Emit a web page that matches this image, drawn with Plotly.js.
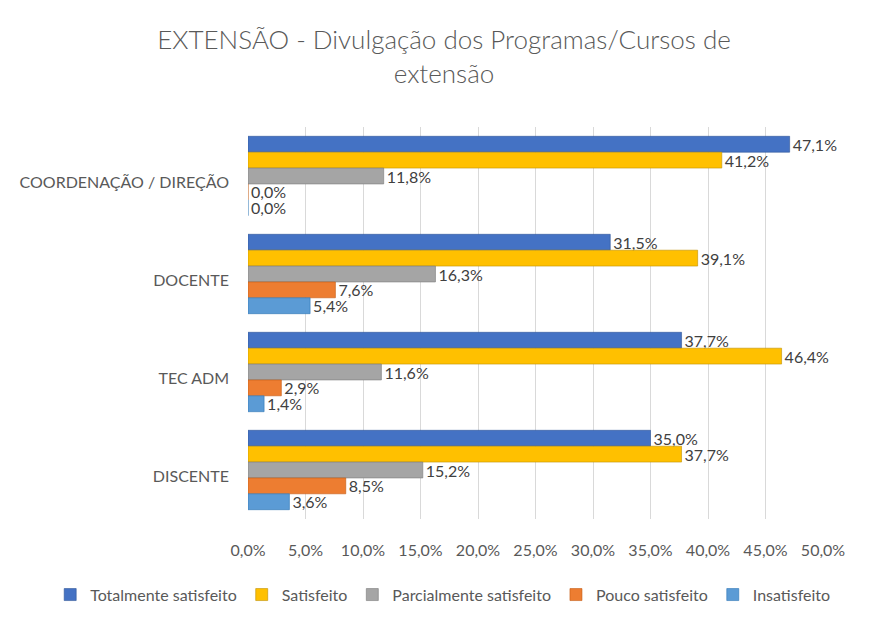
<!DOCTYPE html>
<html>
<head>
<meta charset="utf-8">
<script src="https://cdn.plot.ly/plotly-3.0.1.min.js"></script>
<style>
  html, body { margin: 0; padding: 0; background: #fff; }
  #chart { width: 888px; height: 627px; outline: 1px solid #d9d9d9; outline-offset: -1px; }
</style>
</head>
<body>
<div id="chart"></div>
<script>
const categories = ["COORDENAÇÃO / DIREÇÃO", "DOCENTE", "TEC ADM", "DISCENTE"];
const seriesNames = ["Totalmente satisfeito", "Satisfeito", "Parcialmente satisfeito", "Pouco satisfeito", "Insatisfeito"];
const totalmenteSatisfeito = [47.1, 31.5, 37.7, 35.0];
const satisfeito = [41.2, 39.1, 46.4, 37.7];
const parcialmenteSatisfeito = [11.8, 16.3, 11.6, 15.2];
const poucoSatisfeito = [0.0, 7.6, 2.9, 8.5];
const insatisfeito = [0.0, 5.4, 1.4, 3.6];
const tickValues = [0, 5, 10, 15, 20, 25, 30, 35, 40, 45, 50];

const seriesValues = [totalmenteSatisfeito, satisfeito, parcialmenteSatisfeito, poucoSatisfeito, insatisfeito];
const colors = ["#4472C4", "#FFC000", "#A5A5A5", "#ED7D31", "#5B9BD5"];
const edgeColors = ["#2F5597", "#BF9000", "#7B7B7B", "#C55A11", "#2E75B6"];
const FONT = "Lato, 'Open Sans', sans-serif";

const traces = seriesValues.map((vals, i) => ({
  type: "bar",
  orientation: "h",
  name: seriesNames[i],
  y: categories,
  x: vals,
  marker: { color: colors[i], line: { color: edgeColors[i], width: 0.6 } },
  texttemplate: "%{x:.1f}%",
  textposition: "outside",
  constraintext: "none",
  cliponaxis: false,
  textfont: { family: FONT, size: 16, color: "#404040" },
  hoverinfo: "x+name"
}));

const layout = {
  width: 888,
  height: 627,
  separators: ",.",
  paper_bgcolor: "#ffffff",
  plot_bgcolor: "#ffffff",
  font: { family: FONT, color: "#595959" },
  title: {
    text: "EXTENSÃO - Divulgação dos Programas/Cursos de<br>extensão",
    font: { family: FONT, size: 26, color: "#595959", weight: 300 },
    x: 0.5, xanchor: "center", xref: "container",
    y: 0.922, yanchor: "middle", yref: "container"
  },
  margin: { l: 248, r: 65, t: 127, b: 108 },
  barmode: "group",
  bargap: 0.19,
  bargroupgap: 0,
  xaxis: {
    range: [0, 50],
    tickvals: tickValues,
    ticktext: tickValues.map(v => v.toFixed(1).replace(".", ",") + "%"),
    showgrid: true,
    gridcolor: "#d9d9d9",
    gridwidth: 1,
    zeroline: false,
    showline: false,
    ticks: "",
    ticklabelstandoff: 20,
    tickfont: { family: FONT, size: 16, color: "#595959" },
    fixedrange: true
  },
  yaxis: {
    type: "category",
    categoryorder: "array",
    categoryarray: categories,
    autorange: "reversed",
    showgrid: false,
    zeroline: false,
    showline: false,
    ticks: "",
    ticklabelstandoff: 18,
    ticklabelshift: -6,
    tickfont: { family: FONT, size: 16, color: "#595959" },
    fixedrange: true
  },
  showlegend: true,
  legend: {
    orientation: "h",
    x: -0.344, xanchor: "left",
    y: -0.193, yanchor: "middle",
    font: { family: FONT, size: 16, color: "#595959" },
    itemwidth: 30,
    traceorder: "normal"
  }
};

Plotly.newPlot("chart", traces, layout, { displayModeBar: false, staticPlot: true });
</script>
</body>
</html>
